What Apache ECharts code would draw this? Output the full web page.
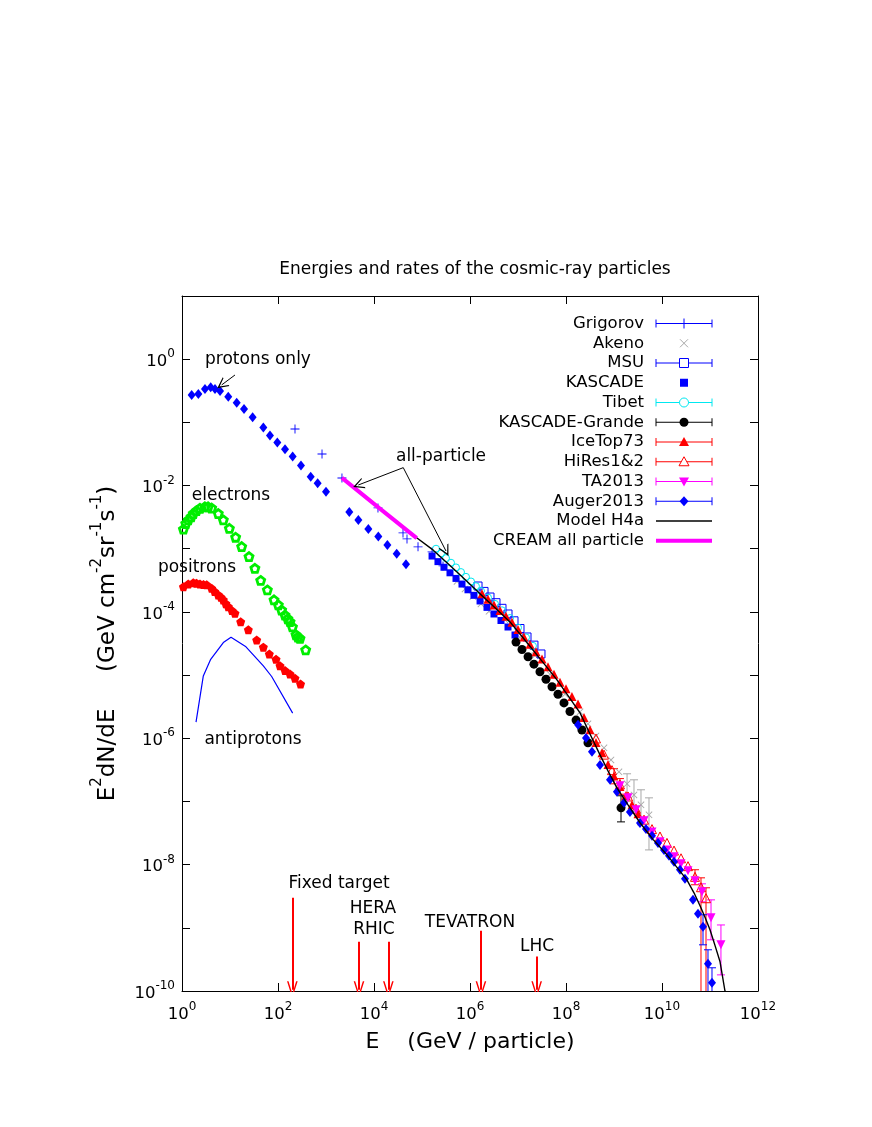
<!DOCTYPE html>
<html>
<head>
<meta charset="utf-8">
<title>Energies and rates of the cosmic-ray particles</title>
<script src="https://cdn.jsdelivr.net/npm/echarts@6/dist/echarts.min.js"></script>
<style>
  html, body { margin: 0; padding: 0; background: #fff; }
  #chart { width: 872px; height: 1127px; }
</style>
</head>
<body>
<div id="chart"></div>
<script>
// values: [E (GeV), E^2 dN/dE (GeV cm^-2 sr^-1 s^-1)]
const protonsOnly = [[1.59,0.27],[2.19,0.281],[3.01,0.337],[3.96,0.359],[4.87,0.337],[6.2,0.314],[9.2,0.255],[13.8,0.205],[19.6,0.163],[29.6,0.12],[49.5,0.0826],[68,0.0617],[96.8,0.0478],[140,0.0375],[202,0.0287],[301,0.0207],[480,0.0138],[670,0.0109],[1000,0.008],[3060,0.0038],[4720,0.00286],[7620,0.00206],[12300,0.00156],[19000,0.00115],[29700,8.3e-4],[46400,5.7e-4]];
const electrons = [[1.07,2.04e-3],[1.2,2.5e-3],[1.35,2.86e-3],[1.55,3.2e-3],[1.72,3.6e-3],[2.0,4.0e-3],[2.37,4.37e-3],[3.0,4.6e-3],[3.5,4.6e-3],[4.15,4.4e-3],[5.7,3.6e-3],[7.26,2.86e-3],[9.7,2.1e-3],[13.1,1.52e-3],[17.5,1.08e-3],[24.9,7.5e-4],[33,4.9e-4],[43.6,3.15e-4],[60,2.23e-4],[82.6,1.55e-4],[101.6,1.29e-4],[119,1.07e-4],[140,8.9e-5],[160,7.8e-5],[178,7.0e-5],[200,5.8e-5],[237,4.35e-5],[260,4.0e-5],[287,3.8e-5],[377,2.5e-5]];
const positrons = [[1.07,2.5e-4],[1.35,2.77e-4],[1.72,2.9e-4],[2.0,2.85e-4],[2.37,2.77e-4],[2.8,2.72e-4],[3.27,2.68e-4],[4.15,2.37e-4],[4.8,2.1e-4],[5.7,1.86e-4],[6.5,1.7e-4],[7.26,1.55e-4],[8.2,1.35e-4],[9.2,1.21e-4],[11,1.05e-4],[12.7,9.5e-5],[16.7,7.0e-5],[24.1,5.2e-5],[36,3.6e-5],[49.5,2.77e-5],[66,2.16e-5],[91,1.78e-5],[110,1.4e-5],[140,1.18e-5],[178,1.04e-5],[226,8.9e-6],[295,7.2e-6]];
const antiprotons = [[1.96,1.8e-6],[2.78,9.7e-6],[3.96,1.78e-5],[7.26,3.27e-5],[10.5,3.98e-5],[21.5,2.8e-5],[49.5,1.4e-5],[73.8,9.5e-6],[202,2.5e-6]];

const grigorov = [[226,7.87e-2],[826,3.16e-2],[2150,1.32e-2],[1.21e4,4.43e-3],[4.02e4,1.78e-3],[4.87e4,1.43e-3],[8.26e4,1.07e-3],[1.62e5,8.9e-4],[2.74e5,5.35e-4]];
const akeno = [[5.36e5,3.04e-4],[7.87e5,2.31e-4],[1.15e6,1.76e-4],[1.69e6,1.34e-4],[2.49e6,1.02e-4],[5.36e6,7.46e-5],[1.10e7,3.94e-5],[2.26e7,2.05e-5],[4.64e7,1.03e-5],[9.53e7,4.99e-6],[1.96e8,2.62e-6],[2.87e8,1.69e-6],[4.22e8,1.09e-6],[6.19e8,7.05e-7],[8.66e8,4.55e-7],[1.27e9,2.94e-7],[1.87e9,1.9e-7],[2.61e9,1.27e-7],[3.65e9,8.83e-8],[5.36e9,6.14e-8]];
const akenoErr = [[1.87e9,1.23e-7,2.74e-7],[2.61e9,6.8e-8,2.2e-7],[3.65e9,4.27e-8,1.53e-7],[5.36e9,1.71e-8,1.14e-7]];
const msu = [[1.47e6,2.57e-4],[1.96e6,2.11e-4],[2.61e6,1.72e-4],[3.48e6,1.40e-4],[4.64e6,1.14e-4],[6.19e6,9.27e-5],[8.26e6,7.23e-5],[1.10e7,5.46e-5],[1.54e7,4.01e-5],[2.15e7,2.98e-5],[3.01e7,2.16e-5]];
const kascade = [[1.62e5,7.66e-4],[2.15e5,6.25e-4],[2.87e5,5.09e-4],[3.83e5,4.16e-4],[5.11e5,3.39e-4],[6.81e5,2.76e-4],[9.08e5,2.24e-4],[1.21e6,1.83e-4],[1.62e6,1.49e-4],[2.26e6,1.18e-4],[3.16e6,9.27e-5],[4.42e6,7.31e-5],[6.19e6,5.77e-5],[8.66e6,4.31e-5]];
const tibet = [[1.96e5,1.0e-3],[2.49e5,8.43e-4],[3.16e5,7.1e-4],[4.02e5,6.0e-4],[5.11e5,5.06e-4],[6.49e5,4.27e-4],[8.26e5,3.59e-4],[1.05e6,3.03e-4],[1.33e6,2.55e-4],[1.69e6,2.15e-4],[2.37e6,1.69e-4],[3.32e6,1.34e-4],[4.64e6,1.06e-4],[6.81e6,8.0e-5],[1.0e7,5.65e-5],[1.47e7,3.95e-5],[2.05e7,2.9e-5]];
const kascadeGrande = [[9.08e6,3.33e-5],[1.21e7,2.54e-5],[1.62e7,1.95e-5],[2.15e7,1.49e-5],[2.87e7,1.13e-5],[3.83e7,8.61e-6],[5.11e7,6.55e-6],[6.81e7,4.97e-6],[9.08e7,3.63e-6],[1.21e8,2.65e-6],[1.62e8,1.94e-6],[2.15e8,1.35e-6],[2.87e8,8.51e-7],[1.4e9,7.92e-8]];
const kascadeGrandeErr = [[1.4e9,4.75e-8,1.23e-7]];
const iceTop73 = [[1.78e6,1.93e-4],[2.37e6,1.58e-4],[3.16e6,1.29e-4],[4.22e6,1.05e-4],[5.62e6,8.55e-5],[7.5e6,6.84e-5],[1.0e7,5.25e-5],[1.33e7,4.02e-5],[1.78e7,3.08e-5],[2.37e7,2.34e-5],[3.16e7,1.79e-5],[4.22e7,1.36e-5],[5.62e7,1.03e-5],[7.5e7,7.73e-6],[1.0e8,6.07e-6],[1.33e8,4.6e-6],[1.78e8,3.49e-6],[2.37e8,2.14e-6],[3.16e8,1.36e-6],[4.22e8,8.59e-7],[5.62e8,5.9e-7],[7.5e8,3.86e-7],[1.0e9,2.52e-7],[1.33e9,1.73e-7],[1.78e9,1.24e-7],[2.37e9,8.9e-8],[3.16e9,6.38e-8]];
const iceTop73Err = [[1.0e9,1.9e-7,3.3e-7],[1.33e9,1.3e-7,2.3e-7]];
const hiRes = [[4.22e8,9.93e-7],[6.19e8,5.51e-7],[9.08e8,3.13e-7],[1.33e9,1.86e-7],[1.96e9,1.2e-7],[2.87e9,7.66e-8],[4.22e9,5.15e-8],[6.19e9,3.65e-8],[9.08e9,2.79e-8],[1.27e10,2.21e-8],[1.78e10,1.67e-8],[2.49e10,1.26e-8],[3.48e10,9.46e-9],[4.87e10,6.41e-9],[6.49e10,4.39e-9],[8.26e10,2.94e-9]];
const hiResErr = [[4.87e10,4.8e-9,8.3e-9],[6.49e10,1e-11,6.18e-9],[8.26e10,1e-11,4.3e-9]];
const ta2013 = [[1.33e9,1.77e-7],[1.96e9,1.14e-7],[2.87e9,7.36e-8],[4.22e9,4.93e-8],[6.19e9,3.3e-8],[9.08e9,2.3e-8],[1.27e10,1.71e-8],[1.78e10,1.33e-8],[2.49e10,1.03e-8],[3.48e10,7.98e-9],[4.87e10,5.55e-9],[6.81e10,3.72e-9],[1.05e11,1.44e-9],[1.69e11,5.38e-10]];
const ta2013Err = [[6.81e10,2.58e-9,4.97e-9],[1.05e11,6.46e-10,2.77e-9],[1.69e11,1.8e-10,1.11e-9]];
const auger2013 = [[1.78e8,1.63e-6],[2.61e8,1.01e-6],[3.48e8,6.1e-7],[5.11e8,3.79e-7],[8.26e8,2.2e-7],[1.15e9,1.42e-7],[1.62e9,9.5e-8],[2.15e9,6.84e-8],[3.48e9,4.58e-8],[4.64e9,3.68e-8],[6.19e9,2.86e-8],[8.26e9,2.21e-8],[1.10e10,1.71e-8],[1.4e10,1.38e-8],[1.78e10,1.11e-8],[2.37e10,8.28e-9],[3.01e10,5.96e-9],[4.42e10,2.77e-9],[5.62e10,1.67e-9],[7.15e10,1.04e-9],[9.08e10,2.69e-10],[1.10e11,1.35e-10]];
const auger2013Err = [[7.15e10,5.38e-10,1.61e-9],[9.08e10,1e-11,4.49e-10],[1.10e11,1e-11,2.33e-10]];
const modelH4a = [[2150,0.0132],[1.33e4,4.31e-3],[7.87e4,1.48e-3],[1.69e5,9.57e-4],[3.83e5,5.42e-4],[7.87e5,3.26e-4],[1.62e6,1.93e-4],[3.32e6,1.16e-4],[6.81e6,6.95e-5],[1.21e7,4.08e-5],[2.05e7,2.5e-5],[3.65e7,1.45e-5],[6.49e7,8.4e-6],[1.10e8,4.72e-6],[1.96e8,2.52e-6],[3.16e8,1.17e-6],[5.11e8,5.46e-7],[7.5e8,3.05e-7],[1.15e9,1.64e-7],[1.96e9,8.83e-8],[3.48e9,4.6e-8],[6.49e9,2.51e-8],[1.27e10,1.43e-8],[2.05e10,9.06e-9],[3.3e10,5.75e-9],[4.64e10,3.58e-9],[6.2e10,2.23e-9],[7.87e10,1.47e-9],[1.0e11,9.3e-10],[1.27e11,5.28e-10],[1.62e11,2.9e-10],[2.05e11,1.0e-10],[2.37e11,6.0e-11]];
const creamAll = [[2150,0.0132],[1.27e4,4.43e-3],[7.76e4,1.47e-3]];

// accelerator energies: [label, E, arrow top]
const accelerators = [['Fixed target',199,2.99e-9],['HERA',4870,6.0e-10],['RHIC',1.99e4,6.0e-10],['TEVATRON',1.69e6,9.0e-10],['LHC',2.45e7,3.5e-10]];
const arrowBottom = 1.05e-10;

// annotation anchors in data units
const notes = [['protons only',38.3,0.97],['all-particle',2.49e5,0.0284],['electrons',10.5,6.84e-3],['positrons',2.05,4.97e-4],['antiprotons',30.1,9.4e-7],
  ['Fixed target',1865,4.97e-9],['HERA',9500,2.0e-9],['RHIC',1.0e4,9.3e-10],['TEVATRON',1e6,1.2e-9],['LHC',2.49e7,5.0e-10]];
const noteArrows = [[[12.7,0.562],[6.7,0.391]],[[40700,0.0192],[4710,0.0102]],[[40700,0.0192],[3.16e5,9.2e-4]]];

const xTicks = [0,2,4,6,8,10,12];   // exponents
const yTicksLabelled = [-10,-8,-6,-4,-2,0];

const FONT = 'DejaVu Sans';
const BLUE = '#0000ff', RED = '#ff0000', MAGENTA = '#ff00ff', CYAN = '#00e8f0', GREY = '#a8a8a8', GREEN = '#00ee00';
const PLUS = 'path://M-1,-0.1H-0.1V-1H0.1V-0.1H1V0.1H0.1V1H-0.1V0.1H-1Z';
const PENTA = 'path://M0,-1L0.951,-0.309L0.588,0.809L-0.588,0.809L-0.951,-0.309Z';
const CHEVRON = 'path://M0,0L6,12L4.7,12L0,3.2L-4.7,12L-6,12Z';
// narrow open head; the two specks at the far corners keep the box square
const LONG_HEAD = 'path://M0,0L5,16L3.6,16L0,4.4L-3.6,16L-5,16Z M-8,16L-7.97,16L-8,15.97Z M8,16L7.97,16L8,15.97Z';

const lg = (rows) => rows.map((r) => r.map((v) => Math.log10(v)));

function scatter(name, rows, symbol, size, itemStyle, extra) {
  return Object.assign({
    type: 'scatter', name, data: lg(rows), symbol, symbolSize: size,
    itemStyle: Object.assign({ opacity: 1 }, itemStyle), silent: true, clip: true
  }, extra || {});
}
function openStyle(c, w) { return { color: 'rgba(0,0,0,0)', borderColor: c, borderWidth: w || 1 }; }

function errorBars(name, rows, color) {
  return {
    type: 'custom', name, data: lg(rows), encode: { x: 0, y: [1, 2] }, clip: true, silent: true,
    renderItem: (params, api) => {
      const lo = api.coord([api.value(0), api.value(1)]);
      const hi = api.coord([api.value(0), api.value(2)]);
      const st = { stroke: color, lineWidth: 1 };
      return { type: 'group', children: [
        { type: 'line', shape: { x1: lo[0], y1: lo[1], x2: hi[0], y2: hi[1] }, style: st },
        { type: 'line', shape: { x1: lo[0] - 4, y1: lo[1], x2: lo[0] + 4, y2: lo[1] }, style: st },
        { type: 'line', shape: { x1: hi[0] - 4, y1: hi[1], x2: hi[0] + 4, y2: hi[1] }, style: st }
      ] };
    }
  };
}

const supRich = {
  b: { fontFamily: FONT, fontSize: 16.5, color: '#000', lineHeight: 22, verticalAlign: 'bottom' },
  s: { fontFamily: FONT, fontSize: 12, color: '#000', lineHeight: 22, verticalAlign: 'top' }
};
const axisCommon = {
  type: 'value',
  axisLine: { show: true, onZero: false, lineStyle: { color: '#000', width: 1 } },
  axisTick: { show: true, inside: true, length: 8, lineStyle: { color: '#000', width: 1 } },
  splitLine: { show: false }
};

// legend, drawn with graphic elements (text on the left, sample on the right)
const legendItems = [
  { name: 'Grigorov', color: BLUE, mark: 'plus', bar: true },
  { name: 'Akeno', color: GREY, mark: 'cross', bar: false },
  { name: 'MSU', color: BLUE, mark: 'rectOpen', bar: true },
  { name: 'KASCADE', color: BLUE, mark: 'rect', bar: false },
  { name: 'Tibet', color: CYAN, mark: 'circleOpen', bar: true },
  { name: 'KASCADE-Grande', color: '#000', mark: 'circle', bar: true },
  { name: 'IceTop73', color: RED, mark: 'tri', bar: true },
  { name: 'HiRes1&2', color: RED, mark: 'triOpen', bar: true },
  { name: 'TA2013', color: MAGENTA, mark: 'triDown', bar: true },
  { name: 'Auger2013', color: BLUE, mark: 'diamond', bar: true },
  { name: 'Model H4a', color: '#000', mark: 'line', bar: false },
  { name: 'CREAM all particle', color: MAGENTA, mark: 'thick', bar: false }
];
function legendGraphic() {
  const out = [];
  const x0 = 656, x1 = 712, xc = 684, tx = 644;
  legendItems.forEach((it, i) => {
    const y = 323.5 + i * 19.75;
    out.push({ type: 'text', style: { text: it.name, x: tx, y, align: 'right', verticalAlign: 'middle', fontFamily: FONT, fontSize: 16.5, fill: '#000' } });
    const c = it.color;
    const st = { stroke: c, lineWidth: 1, fill: null };
    if (it.bar) {
      out.push({ type: 'line', shape: { x1: x0, y1: y, x2: x1, y2: y }, style: st });
      out.push({ type: 'line', shape: { x1: x0, y1: y - 4, x2: x0, y2: y + 4 }, style: st });
      out.push({ type: 'line', shape: { x1: x1, y1: y - 4, x2: x1, y2: y + 4 }, style: st });
    }
    const m = it.mark;
    if (m === 'plus') {
      out.push({ type: 'line', shape: { x1: xc - 5, y1: y, x2: xc + 5, y2: y }, style: st });
      out.push({ type: 'line', shape: { x1: xc, y1: y - 5, x2: xc, y2: y + 5 }, style: st });
    } else if (m === 'cross') {
      out.push({ type: 'line', shape: { x1: xc - 4, y1: y - 4, x2: xc + 4, y2: y + 4 }, style: st });
      out.push({ type: 'line', shape: { x1: xc - 4, y1: y + 4, x2: xc + 4, y2: y - 4 }, style: st });
    } else if (m === 'rectOpen') {
      out.push({ type: 'rect', shape: { x: xc - 4.5, y: y - 4.5, width: 9, height: 9 }, style: { stroke: c, lineWidth: 1, fill: '#fff' } });
    } else if (m === 'rect') {
      out.push({ type: 'rect', shape: { x: xc - 4, y: y - 4, width: 8, height: 8 }, style: { fill: c } });
    } else if (m === 'circleOpen') {
      out.push({ type: 'circle', shape: { cx: xc, cy: y, r: 4.5 }, style: { stroke: c, lineWidth: 1, fill: '#fff' } });
    } else if (m === 'circle') {
      out.push({ type: 'circle', shape: { cx: xc, cy: y, r: 4.5 }, style: { fill: c } });
    } else if (m === 'tri' || m === 'triOpen') {
      out.push({ type: 'polygon', shape: { points: [[xc, y - 5], [xc + 5, y + 4], [xc - 5, y + 4]] },
        style: m === 'tri' ? { fill: c } : { stroke: c, lineWidth: 1, fill: '#fff' } });
    } else if (m === 'triDown') {
      out.push({ type: 'polygon', shape: { points: [[xc - 5, y - 4], [xc + 5, y - 4], [xc, y + 5]] }, style: { fill: c } });
    } else if (m === 'diamond') {
      out.push({ type: 'polygon', shape: { points: [[xc, y - 5], [xc + 4.5, y], [xc, y + 5], [xc - 4.5, y]] }, style: { fill: c } });
    } else if (m === 'line') {
      out.push({ type: 'line', shape: { x1: x0, y1: y, x2: x1, y2: y }, style: { stroke: c, lineWidth: 1.3 } });
    } else if (m === 'thick') {
      out.push({ type: 'line', shape: { x1: x0, y1: y, x2: x1, y2: y }, style: { stroke: c, lineWidth: 4 } });
    }
  });
  return out;
}

const chart = echarts.init(document.getElementById('chart'), null, { renderer: 'canvas' });

const option = {
  animation: false,
  backgroundColor: '#fff',
  textStyle: { fontFamily: FONT },
  title: {
    text: 'Energies and rates of the cosmic-ray particles',
    left: 470, top: 256, textAlign: 'center',
    textStyle: { fontFamily: FONT, fontSize: 17, fontWeight: 'normal', color: '#000' }
  },
  grid: { left: 182, right: 114, top: 296, bottom: 136, containLabel: false, outerBoundsMode: 'none' },
  xAxis: [
    Object.assign({}, axisCommon, {
      min: xTicks[0], max: xTicks[xTicks.length - 1], interval: 2, position: 'bottom',
      name: 'E    (GeV / particle)', nameLocation: 'middle', nameGap: 40,
      nameTextStyle: { fontFamily: FONT, fontSize: 22, color: '#000' },
      axisLabel: { margin: 10, showMinLabel: true, showMaxLabel: true, formatter: (v) => `{b|10}{s|${v}}`, rich: supRich }
    }),
    Object.assign({}, axisCommon, {
      min: xTicks[0], max: xTicks[xTicks.length - 1], interval: 2, position: 'top', axisLabel: { show: false }
    })
  ],
  yAxis: [
    Object.assign({}, axisCommon, {
      min: -10, max: 1, interval: 1, position: 'left',
      name: '{b|E}{s|2}{b|dN/dE     (GeV cm}{s|-2}{b|sr}{s|-1}{b|s}{s|-1}{b|)}',
      nameLocation: 'middle', nameRotate: 90, nameGap: 62,
      nameTextStyle: {
        fontFamily: FONT, fontSize: 23, color: '#000',
        rich: {
          b: { fontFamily: FONT, fontSize: 23, color: '#000', lineHeight: 30, verticalAlign: 'bottom' },
          s: { fontFamily: FONT, fontSize: 15, color: '#000', lineHeight: 30, verticalAlign: 'top' }
        }
      },
      axisLabel: {
        margin: 7, showMinLabel: true, showMaxLabel: true,
        formatter: (v) => (yTicksLabelled.indexOf(Math.round(v)) >= 0 ? `{b|10}{s|${v}}` : ''),
        rich: supRich
      }
    }),
    Object.assign({}, axisCommon, { min: -10, max: 1, interval: 1, position: 'right', axisLabel: { show: false } })
  ],
  graphic: legendGraphic(),
  series: [
    scatter('electrons', electrons, PENTA, 8, openStyle(GREEN, 2.8)),
    scatter('positrons', positrons, PENTA, 9, { color: RED }),
    scatter('protons only', protonsOnly, 'diamond', [8, 10], { color: BLUE }),
    {
      type: 'line', name: 'antiprotons', data: lg(antiprotons), showSymbol: false, symbol: 'none',
      lineStyle: { color: BLUE, width: 1.2 }, silent: true
    },
    scatter('Grigorov', grigorov, PLUS, 9, { color: BLUE }),
    scatter('Akeno', akeno, PLUS, 9, { color: GREY }, { symbolRotate: 45 }),
    errorBars('Akeno err', akenoErr, GREY),
    scatter('MSU', msu, 'rect', 8, openStyle(BLUE, 1)),
    scatter('KASCADE', kascade, 'rect', 7, { color: BLUE }),
    scatter('Tibet', tibet, 'circle', 7, openStyle(CYAN, 1)),
    errorBars('KASCADE-Grande err', kascadeGrandeErr, '#000'),
    scatter('KASCADE-Grande', kascadeGrande, 'circle', 9, { color: '#000' }),
    errorBars('IceTop73 err', iceTop73Err, RED),
    scatter('IceTop73', iceTop73, 'triangle', 9, { color: RED }),
    errorBars('HiRes1&2 err', hiResErr, RED),
    scatter('HiRes1&2', hiRes, 'triangle', 9, openStyle(RED, 1)),
    errorBars('TA2013 err', ta2013Err, MAGENTA),
    scatter('TA2013', ta2013, 'triangle', 9, { color: MAGENTA }, { symbolRotate: 180 }),
    errorBars('Auger2013 err', auger2013Err, BLUE),
    scatter('Auger2013', auger2013, 'diamond', [8, 10], { color: BLUE }),
    {
      type: 'line', name: 'Model H4a', data: lg(modelH4a), showSymbol: false, symbol: 'none',
      smooth: false, clip: true,
      lineStyle: { color: '#000', width: 1.4 }, silent: true, z: 5
    },
    {
      type: 'line', name: 'CREAM all particle', data: lg(creamAll), showSymbol: false, symbol: 'none',
      lineStyle: { color: MAGENTA, width: 4 }, silent: true, z: 6
    },
    {
      type: 'lines', name: 'note arrows', coordinateSystem: 'cartesian2d', silent: true, z: 7,
      data: noteArrows.map((a) => ({ coords: lg(a) })),
      symbol: ['none', CHEVRON], symbolSize: 11,
      lineStyle: { color: '#000', width: 1, opacity: 1 }
    },
    {
      type: 'lines', name: 'accelerators', coordinateSystem: 'cartesian2d', silent: true, z: 7,
      data: accelerators.map((a) => ({ coords: lg([[a[1], a[2]], [a[1], arrowBottom]]) })),
      symbol: ['none', LONG_HEAD], symbolSize: 17,
      lineStyle: { color: RED, width: 2, opacity: 1 }
    },
    {
      type: 'scatter', name: 'notes', silent: true, z: 8, symbolSize: 1, itemStyle: { color: 'rgba(0,0,0,0)', opacity: 1 },
      data: notes.map((n) => ({ value: [Math.log10(n[1]), Math.log10(n[2])], name: n[0] })),
      label: { show: true, position: 'inside', formatter: (p) => p.name, fontFamily: FONT, fontSize: 17, color: '#000', opacity: 1 }
    }
  ]
};

chart.setOption(option);
</script>
</body>
</html>
